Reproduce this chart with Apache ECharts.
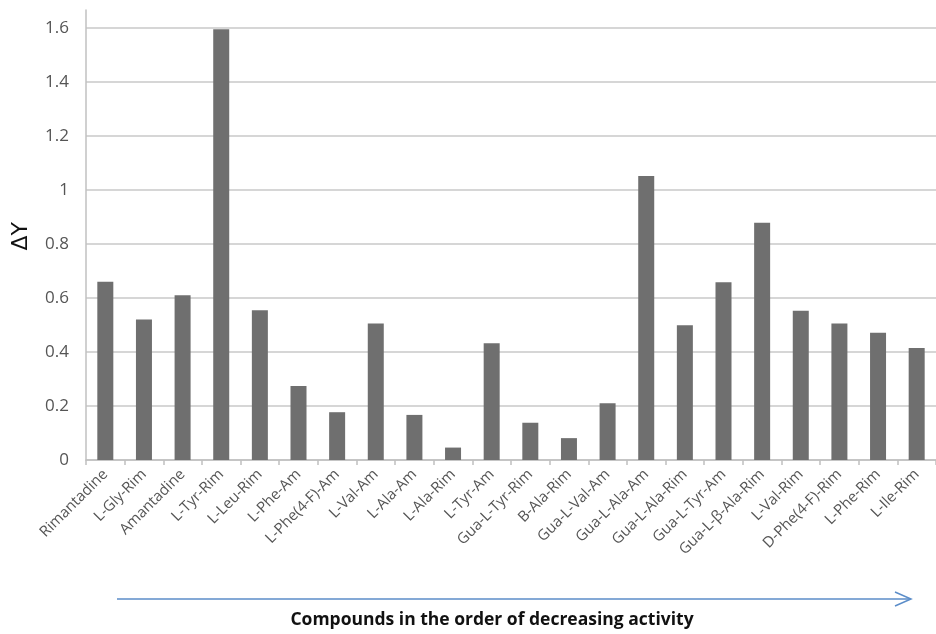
<!DOCTYPE html>
<html>
<head>
<meta charset="utf-8">
<script src="https://cdn.jsdelivr.net/npm/echarts@6/dist/echarts.min.js"></script>
<style>html,body{margin:0;padding:0;background:#fff;}#chart{width:936px;height:634px;}</style>
</head>
<body>
<div id="chart"></div>
<script>
var categories = ["Rimantadine","L-Gly-Rim","Amantadine","L-Tyr-Rim","L-Leu-Rim","L-Phe-Am","L-Phe(4-F)-Am","L-Val-Am","L-Ala-Am","L-Ala-Rim","L-Tyr-Am","Gua-L-Tyr-Rim","B-Ala-Rim","Gua-L-Val-Am","Gua-L-Ala-Am","Gua-L-Ala-Rim","Gua-L-Tyr-Am","Gua-L-\u03b2-Ala-Rim","L-Val-Rim","D-Phe(4-F)-Rim","L-Phe-Rim","L-Ile-Rim"];
var deltaY = [0.66,0.52,0.61,1.595,0.555,0.274,0.177,0.506,0.167,0.046,0.432,0.138,0.081,0.21,1.052,0.499,0.658,0.879,0.553,0.506,0.471,0.415];
var yMin = 0;
var yMax = 1.6667;
var yInterval = 0.2;
var yAxisTitle = "\u0394Y";
var xAxisTitle = "Compounds in the order of decreasing activity";

var chart = echarts.init(document.getElementById('chart'), null, {renderer:'canvas'});
chart.setOption({
  animation:false,
  backgroundColor:'#ffffff',
  grid:{left:86, right:-16, top:10, bottom:174, containLabel:false},
  xAxis:{
    type:'category',
    data:categories,
    axisLine:{show:true, lineStyle:{color:'#c0c0c0', width:1.5}},
    axisTick:{show:true, length:5, lineStyle:{color:'#c0c0c0', width:1.5}},
    axisLabel:{interval:0, rotate:45, fontFamily:'Open Sans', fontSize:15, color:'#555555', margin:12}
  },
  yAxis:{
    type:'value',
    min:yMin, max:yMax, interval:yInterval,
    axisLine:{show:true, lineStyle:{color:'#c0c0c0', width:1.5}},
    axisTick:{show:false},
    axisLabel:{showMaxLabel:false, fontFamily:'Open Sans', fontSize:17, color:'#555555', margin:17},
    splitLine:{show:true, showMaxLine:false, lineStyle:{color:'#c8c8c8', width:1.5}}
  },
  series:[{
    type:'bar',
    data:deltaY,
    barWidth:16,
    itemStyle:{color:'#6f6f6f'}
  }],
  graphic:[
    {type:'text', left:10, top:222, rotation:Math.PI/2, style:{text:yAxisTitle, fontFamily:'DejaVu Sans', fontSize:22, fill:'#111111'}},
    {type:'line', shape:{x1:117, y1:599, x2:910, y2:599}, style:{stroke:'#5b8dc9', lineWidth:1.5}},
    {type:'polyline', shape:{points:[[895,592],[911,599],[895,606]]}, style:{stroke:'#5b8dc9', lineWidth:1.5, fill:null}},
    {type:'text', x:492, y:611, style:{text:xAxisTitle, fontFamily:'Open Sans', fontWeight:'bold', fontSize:17.5, fill:'#111111', align:'center'}}
  ]
});
</script>
</body>
</html>
